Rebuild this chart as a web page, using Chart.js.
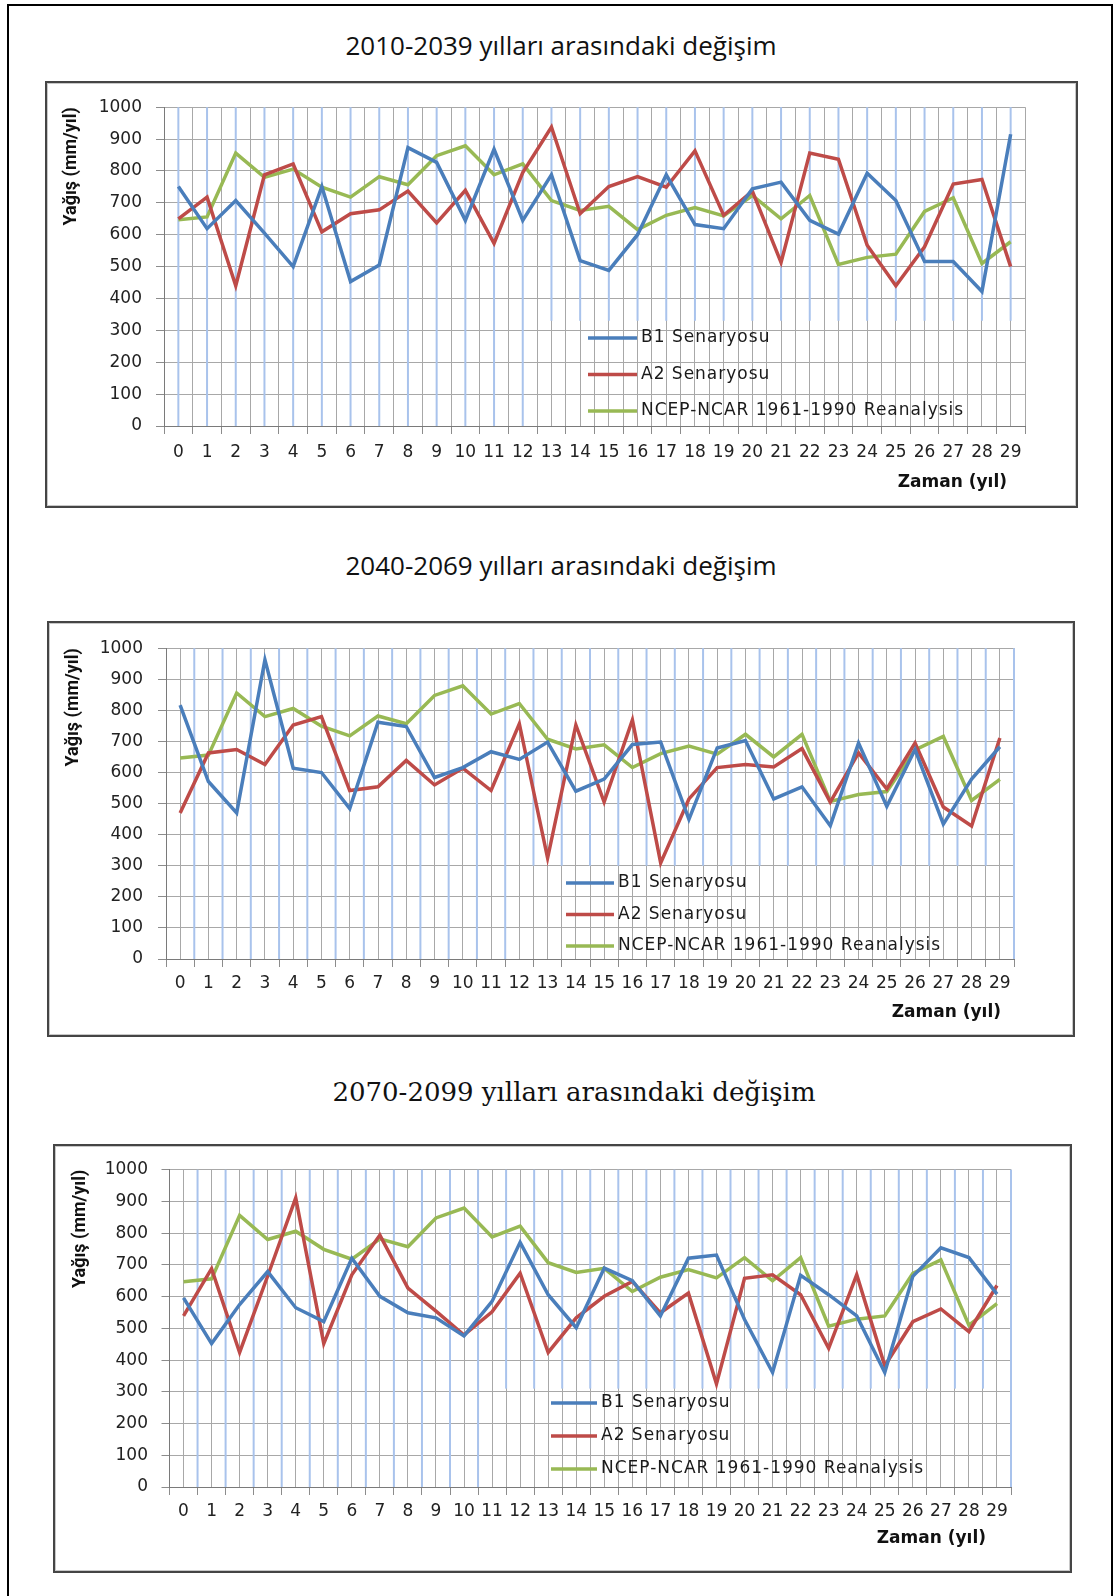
<!DOCTYPE html>
<html>
<head>
<meta charset="utf-8">
<script src="https://cdn.jsdelivr.net/npm/chart.js@4.4.1/dist/chart.umd.min.js"></script>
<style>
  body { margin: 0; background: #fff; }
  #page { position: relative; width: 1118px; height: 1596px; overflow: hidden; background: #fff; }
  #frame { position: absolute; left: 7px; top: 4px; width: 1102px; height: 1620px; border: 2px solid #000; border-bottom: none; }
  .title { position: absolute; width: 1118px; text-align: center; color: #111; line-height: 30px; }
  .box { position: absolute; border: 2px solid #454545; box-shadow: inset 0 0 0 1px #c8c8c8; }
  .box canvas { position: absolute; left: 0; top: 0; }
</style>
</head>
<body>
<div id="page">
  <div id="frame"></div>

  <div class="title" style="left:2px; top:30px; font:26px 'Open Sans'; line-height:30px;">2010-2039 yılları arasındaki değişim</div>
  <div class="box" style="left:45px; top:81px; width:1029px; height:423px;">
    <canvas id="c2010" width="1029" height="423"></canvas>
  </div>

  <div class="title" style="left:2px; top:550px; font:26px 'Open Sans'; line-height:30px;">2040-2069 yılları arasındaki değişim</div>
  <div class="box" style="left:47px; top:621px; width:1024px; height:412px;">
    <canvas id="c2040" width="1024" height="412"></canvas>
  </div>

  <div class="title" style="left:15px; top:1077px; font:26px 'DejaVu Serif'; line-height:30px;">2070-2099 yılları arasındaki değişim</div>
  <div class="box" style="left:53px; top:1144px; width:1015px; height:425px;">
    <canvas id="c2070" width="1015" height="425"></canvas>
  </div>
</div>

<script>
// zaman (yıl) ekseni
const yillar = [0, 1, 2, 3, 4, 5, 6, 7, 8, 9, 10, 11, 12, 13, 14, 15, 16, 17, 18, 19, 20, 21, 22, 23, 24, 25, 26, 27, 28, 29];

// NCEP-NCAR 1961-1990 reanalysis (ayni seri her grafikte)
const ncep = [647, 656, 856, 780, 806, 749, 718, 782, 757, 848, 879, 788, 822, 707, 676, 689, 616, 661, 685, 659, 723, 650, 723, 507, 529, 539, 673, 716, 510, 578];

// 2010-2039
const b1_2010 = [751, 619, 707, 605, 500, 751, 453, 505, 873, 827, 645, 868, 645, 788, 519, 488, 600, 788, 632, 619, 744, 765, 645, 602, 793, 707, 516, 516, 422, 915];
const a2_2010 = [650, 718, 440, 788, 822, 609, 666, 678, 737, 637, 739, 573, 795, 938, 666, 751, 782, 749, 863, 661, 737, 513, 856, 837, 567, 440, 562, 759, 773, 500];

// 2040-2069
const b1_2040 = [817, 571, 470, 963, 614, 600, 484, 762, 748, 584, 616, 667, 642, 698, 540, 579, 690, 698, 449, 679, 703, 515, 554, 429, 695, 491, 674, 434, 579, 683];
const a2_2040 = [470, 663, 674, 626, 753, 780, 542, 554, 639, 560, 614, 542, 757, 325, 753, 505, 769, 309, 515, 616, 626, 618, 677, 505, 663, 547, 695, 489, 428, 711];

// 2070-2099
const b1_2070 = [596, 452, 575, 679, 565, 521, 721, 601, 549, 533, 476, 585, 771, 606, 502, 690, 650, 539, 721, 731, 528, 361, 667, 606, 539, 361, 664, 754, 723, 608];
const a2_2070 = [539, 688, 424, 665, 911, 452, 669, 794, 627, 554, 479, 552, 674, 424, 533, 601, 648, 549, 611, 325, 658, 669, 606, 437, 669, 382, 521, 561, 490, 635];

const seriesNames = ['B1 Senaryosu', 'A2 Senaryosu', 'NCEP-NCAR 1961-1990 Reanalysis'];
const seriesColors = ['#4a7ebb', '#be4b48', '#98b954'];

// light blue vertical lines behind the series
const blueLines = {
  id: 'blueLines',
  beforeDatasetsDraw(chart, args, opts) {
    const ctx = chart.ctx;
    const x = chart.scales.x, y = chart.scales.y;
    ctx.save();
    ctx.strokeStyle = '#a9c3ec';
    ctx.lineWidth = 2;
    yillar.forEach((v, i) => {
      const px = x.getPixelForValue(v + opts.offset);
      const isShort = i >= opts.shortFrom && !(opts.fullLast && i === yillar.length - 1);
      ctx.beginPath();
      ctx.moveTo(px, y.getPixelForValue(1000));
      ctx.lineTo(px, y.getPixelForValue(isShort ? opts.stopAt : 0));
      ctx.stroke();
    });
    ctx.restore();
  }
};

// legend inside the plot area + x axis title, as in the original sheet
const lineLegend = {
  id: 'lineLegend',
  afterDatasetsDraw(chart, args, opts) {
    const ctx = chart.ctx;
    ctx.save();
    ctx.font = '17px "DejaVu Sans"';
    ctx.letterSpacing = '1px';
    ctx.textBaseline = 'middle';
    ctx.fillStyle = '#1a1a1a';
    chart.data.datasets.forEach((ds, i) => {
      const yy = opts.top + i * opts.gap;
      ctx.strokeStyle = ds.borderColor;
      ctx.lineWidth = 3.5;
      ctx.beginPath();
      ctx.moveTo(opts.left, yy);
      ctx.lineTo(opts.left + opts.width, yy);
      ctx.stroke();
      ctx.fillText(ds.label, opts.left + opts.width + 4, yy);
    });

    ctx.letterSpacing = '0px';
    ctx.font = 'bold 17px "DejaVu Sans"';
    ctx.textAlign = 'right';
    ctx.fillStyle = '#111';
    ctx.fillText(opts.xTitle, chart.chartArea.right - opts.xTitleInset, opts.xTitleY);
    ctx.restore();
  }
};

function points(arr) {
  return yillar.map((x, i) => ({ x: x, y: arr[i] }));
}

function makeChart(id, b1, a2, L) {
  const values = [b1, a2, ncep];
  return new Chart(document.getElementById(id), {
    type: 'line',
    data: {
      datasets: values.map((arr, i) => ({
        label: seriesNames[i],
        data: points(arr),
        borderColor: seriesColors[i],
        borderWidth: 3.5,
        pointRadius: 0,
        tension: 0,
        fill: false
      }))
    },
    options: {
      responsive: false,
      animation: false,
      layout: { padding: { left: L.pl, right: L.pr, top: L.pt, bottom: L.pb } },
      plugins: {
        legend: { display: false },
        tooltip: { enabled: false },
        blueLines: L.blue,
        lineLegend: Object.assign({ xTitle: 'Zaman (yıl)' }, L.legend)
      },
      scales: {
        x: {
          type: 'linear',
          min: -0.5,
          max: 29.5,
          afterFit(s) { s.height = L.xh; },
          ticks: {
            stepSize: 0.5,
            autoSkip: false,
            maxRotation: 0,
            padding: L.xpad,
            color: '#222',
            font: { family: 'DejaVu Sans', size: 17 },
            callback: v => Number.isInteger(v) ? String(v) : ''
          },
          grid: {
            color: '#a8a8a8',
            tickLength: 8,
            tickColor: c => (c.tick && Number.isInteger(c.tick.value)) ? 'rgba(0,0,0,0)' : '#8c8c8c'
          },
          border: { color: '#7a7a7a' }
        },
        y: {
          min: 0,
          max: 1000,
          afterFit(s) { s.width = L.yw; },
          ticks: {
            stepSize: 100,
            padding: L.ypad,
            color: '#222',
            font: { family: 'DejaVu Sans', size: 17 },
            callback: v => String(v)
          },
          grid: { color: '#a8a8a8', tickLength: 8, tickColor: '#8c8c8c' },
          border: { color: '#7a7a7a' },
          title: {
            display: true,
            text: 'Yağış (mm/yıl)',
            align: 'end',
            color: '#111',
            font: { family: 'Roboto', size: 18, weight: 'bold' },
            padding: { top: 4, bottom: 0 }
          }
        }
      }
    },
    plugins: [blueLines, lineLegend]
  });
}

makeChart('c2010', b1_2010, a2_2010, {
  pl: 10, pr: 51, pt: 21, pb: 9, yw: 107, xh: 71, xpad: 8, ypad: 14,
  blue: { offset: 0, shortFrom: 13, stopAt: 330, fullLast: false },
  legend: { left: 541, width: 49, top: 255, gap: 36.5, xTitleInset: 18, xTitleY: 400 }
});

makeChart('c2040', b1_2040, a2_2040, {
  pl: 10, pr: 59, pt: 21, pb: 8, yw: 107, xh: 68, xpad: 6, ypad: 15,
  blue: { offset: 0.5, shortFrom: 12, stopAt: 300, fullLast: true },
  legend: { left: 517, width: 48, top: 260, gap: 31.5, xTitleInset: 13, xTitleY: 390 }
});

makeChart('c2070', b1_2070, a2_2070, {
  pl: 11, pr: 59, pt: 21, pb: 18, yw: 103.5, xh: 66, xpad: 6, ypad: 13.5,
  blue: { offset: 0.5, shortFrom: 11, stopAt: 310, fullLast: true },
  legend: { left: 496, width: 46, top: 257, gap: 33, xTitleInset: 25, xTitleY: 393 }
});
</script>
</body>
</html>
